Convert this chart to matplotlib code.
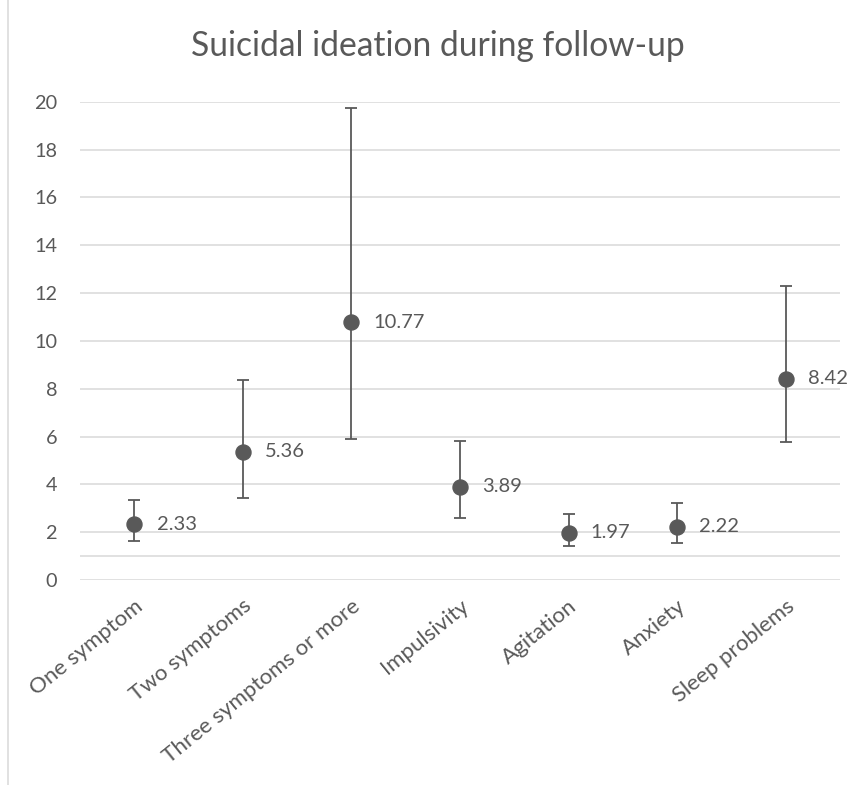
import matplotlib.pyplot as plt
from matplotlib.lines import Line2D
from matplotlib.transforms import ScaledTranslation

# Categories and values
categories = ["One symptom", "Two symptoms", "Three symptoms or more",
              "Impulsivity", "Agitation", "Anxiety", "Sleep problems"]
values = [2.33, 5.36, 10.77, 3.89, 1.97, 2.22, 8.42]
upper = [3.36, 8.37, 19.72, 5.80, 2.78, 3.20, 12.30]
lower = [1.62, 3.44, 5.90, 2.59, 1.41, 1.54, 5.79]
yticks = [0, 2, 4, 6, 8, 10, 12, 14, 16, 18, 20]

grey = "#595959"
plt.rcParams['font.family'] = ['Lato', 'DejaVu Sans']

fig = plt.figure(figsize=(8.59, 7.85), dpi=100)
ax = fig.add_axes([80 / 859, 1 - 580 / 785, 760 / 859, 478.3 / 785])

x = list(range(len(categories)))
err = [[v - lo for v, lo in zip(values, lower)],
       [up - v for v, up in zip(values, upper)]]
ax.errorbar(x, values, yerr=err, fmt='o', color=grey, ecolor=grey,
            markersize=10.8, elinewidth=1.3, capsize=4.4, capthick=1.3, zorder=3)

for xi, v in zip(x, values):
    ax.annotate(f"{v:.2f}", (xi, v), xytext=(16, 0), textcoords='offset points',
                va='center', ha='left', fontsize=14.5, color=grey)

ax.set_xlim(-0.5, len(categories) - 0.5)
ax.set_ylim(0, 20)
ax.set_yticks(yticks)
ax.yaxis.grid(True, color="#d9d9d9", linewidth=1.1)
ax.axhline(1, color="#d9d9d9", linewidth=1.1, zorder=1)
ax.set_axisbelow(True)
for s in ax.spines.values():
    s.set_visible(False)
ax.tick_params(length=0, labelsize=14.3, labelcolor=grey)
ax.tick_params(axis='y', pad=16.5)
ax.set_xticks(x)
ax.set_xticklabels(categories, rotation=39, ha='right', va='center',
                   rotation_mode='anchor', fontsize=16)
ax.tick_params(axis='x', pad=17)
shift = ScaledTranslation(6 / 100, 0, fig.dpi_scale_trans)
for lbl in ax.get_xticklabels():
    lbl.set_transform(lbl.get_transform() + shift)

fig.text(438 / 859, 1 - 46 / 785, "Suicidal ideation during follow-up",
         ha='center', va='center', fontsize=24.2, color=grey)

# chart area border on the left
fig.add_artist(Line2D([7.5 / 859, 7.5 / 859], [0.0, 1.0],
                      transform=fig.transFigure, color="#d9d9d9", linewidth=1.1))

fig.savefig("out.png", dpi=100, facecolor="white")
